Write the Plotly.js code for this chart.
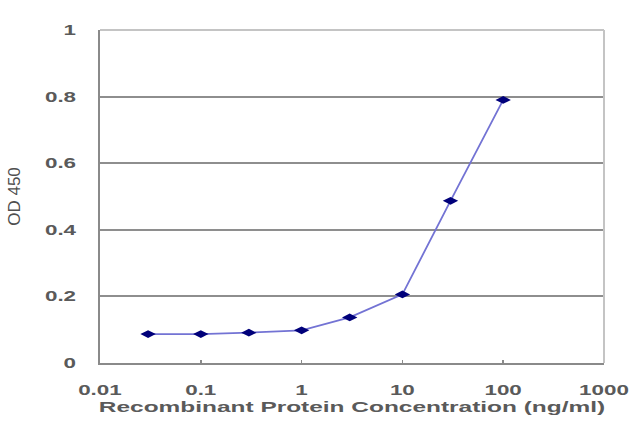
<!DOCTYPE html>
<html>
<head>
<meta charset="utf-8">
<script src="https://cdn.plot.ly/plotly-3.0.1.min.js"></script>
<style>
html, body { margin: 0; padding: 0; background: #fff; }
#chart { width: 640px; height: 427px; }
</style>
</head>
<body>
<div id="chart"></div>
<script>
// Data
const concentration = [0.03, 0.1, 0.3, 1, 3, 10, 30, 100];
const od450 = [0.087, 0.087, 0.091, 0.098, 0.137, 0.206, 0.487, 0.79];
const xTickVals = [0.01, 0.1, 1, 10, 100, 1000];
const xTickText = ["0.01", "0.1", "1", "10", "100", "1000"];
const yTickVals = [0, 0.2, 0.4, 0.6, 0.8, 1];
const yTickText = ["0", "0.2", "0.4", "0.6", "0.8", "1"];
const xTitle = "Recombinant Protein Concentration (ng/ml)";
const yTitle = "OD 450";

const textColor = "#5a5a5a";
const fontFamily = "'Liberation Sans', Arial, sans-serif";

const trace = {
  x: concentration,
  y: od450,
  type: "scatter",
  mode: "lines+markers",
  line: { color: "#7373d4", width: 1.8 },
  marker: { symbol: "diamond-wide", size: 11, color: "#00007a", line: { width: 0 } },
  hoverinfo: "skip"
};

const layout = {
  width: 640,
  height: 427,
  margin: { l: 100, r: 36, t: 30, b: 64 },
  paper_bgcolor: "#ffffff",
  plot_bgcolor: "#ffffff",
  showlegend: false,
  font: { family: fontFamily, color: textColor, size: 14 },
  xaxis: {
    type: "log",
    range: [-2, 3],
    tickvals: xTickVals,
    ticktext: xTickText,
    ticks: "inside",
    ticklen: 3,
    tickwidth: 1.5,
    tickcolor: "#8a8a8a",
    showgrid: false,
    zeroline: false,
    showline: true,
    linecolor: "#8a8a8a",
    linewidth: 2,
    ticklabelstandoff: 13,
    tickfont: { size: 14, color: textColor, family: fontFamily, weight: "bold" },
    title: { text: xTitle, font: { size: 15, color: textColor, family: fontFamily, weight: "bold" }, standoff: 5 }
  },
  yaxis: {
    range: [0, 1],
    tickvals: yTickVals,
    ticktext: yTickText,
    ticks: "",
    showgrid: true,
    gridcolor: "#8e8e8e",
    gridwidth: 1.8,
    zeroline: false,
    showline: true,
    linecolor: "#8a8a8a",
    linewidth: 2,
    ticklabelstandoff: 19,
    tickfont: { size: 14, color: textColor, family: fontFamily, weight: "bold" },
    title: { text: yTitle, font: { size: 17, color: "#4f4f4f", family: fontFamily }, standoff: 32 }
  },
  shapes: [
    { type: "line", xref: "paper", yref: "paper", x0: 0, x1: 1, y0: 1, y1: 1,
      line: { color: "#c4c4c4", width: 2 }, layer: "above" },
    { type: "line", xref: "paper", yref: "paper", x0: 1, x1: 1, y0: 0, y1: 1,
      line: { color: "#c4c4c4", width: 2 }, layer: "above" }
  ]
};

function stretchText(sel, s, anchor) {
  document.querySelectorAll(sel).forEach(function (el) {
    const bb = el.getBBox();
    let ax = bb.x + bb.width / 2;
    if (anchor === "right") ax = bb.x + bb.width;
    const t = el.getAttribute("transform") || "";
    el.setAttribute("transform", t + " translate(" + ax + ",0) scale(" + s + ",1) translate(" + (-ax) + ",0)");
  });
}

Plotly.newPlot("chart", [trace], layout, { staticPlot: true, displayModeBar: false }).then(function () {
  stretchText("#chart .xtick text", 1.6, "center");
  stretchText("#chart .ytick text", 1.6, "right");
  stretchText("#chart .g-xtitle text", 1.63, "center");
});
</script>
</body>
</html>
